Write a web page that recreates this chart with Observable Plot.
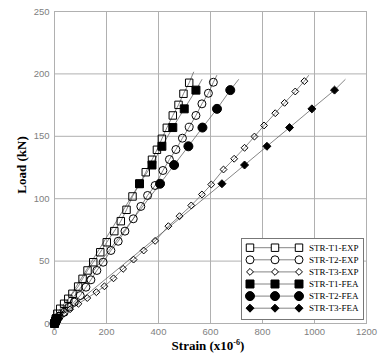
<!DOCTYPE html>
<html>
<head>
<meta charset="utf-8">
<script src="https://cdn.jsdelivr.net/npm/d3@7"></script>
<script src="https://cdn.jsdelivr.net/npm/@observablehq/plot@0.6"></script>
<style>
  body { margin: 0; background: #fff; }
  #chart svg { display: block; }
</style>
</head>
<body>
<div id="chart"></div>
<script>
// Axis ticks
const strainTicks = [0, 200, 400, 600, 800, 1000, 1200];
const loadTicks = [0, 50, 100, 150, 200, 250];

// Test specimens: measured (EXP) and finite-element (FEA) load–strain data
const t1ExpStrain = [0, 5, 11, 22, 37, 53, 69, 91, 108, 127, 149, 176, 201, 230, 255, 277, 300, 327, 351, 375, 394, 413, 432, 455, 477, 496, 518];
const t1ExpLoad   = [0, 3.8, 7.8, 11.8, 15.8, 19.8, 23.8, 29.6, 35.8, 42.5, 49.1, 57.1, 65.1, 74, 82, 91.1, 101.8, 111.9, 121.2, 131.2, 139.2, 148, 156.8, 166.7, 175.2, 184.1, 192.9];
const t1ExpEnd    = [535, 201.4];

const t2ExpStrain = [0, 18, 37, 56, 76, 99, 121, 140, 163, 187, 217, 245, 271, 303, 332, 358, 387, 417, 442, 467, 492, 518, 544, 567, 592, 611];
const t2ExpLoad   = [0, 5.6, 9, 13.1, 17.1, 22.4, 29.1, 35, 42.5, 49.1, 58.5, 65.9, 74, 83.9, 93.8, 102.6, 110.6, 122.6, 131.4, 139.4, 148.5, 157.3, 166.7, 176, 184.5, 193.3];
const t2ExpEnd    = [624, 198.7];

const t3ExpStrain = [0, 9, 35, 60, 92, 126, 161, 192, 227, 264, 304, 343, 387, 438, 481, 526, 567, 603, 650, 691, 731, 769, 806, 849, 885, 926, 961];
const t3ExpLoad   = [0, 3.8, 7.8, 11.4, 15.8, 20.4, 25.1, 29.8, 36.2, 43.8, 51.2, 58.5, 66.2, 78, 86, 94.6, 103.4, 111.4, 123.4, 132, 140.8, 149.8, 158.7, 168.5, 176.8, 185.9, 194.2];
const t3ExpEnd    = [977, 198.7];

const t1FeaStrain = [0, 4, 8, 327, 375, 413, 455, 499, 544];
const t1FeaLoad   = [0, 2, 4, 112, 127, 142, 157, 172, 187];
const t1FeaEnd    = [567, 195.5];

const t2FeaStrain = [0, 5, 10, 406, 460, 515, 569, 625, 676];
const t2FeaLoad   = [0, 2, 4, 112, 127, 142, 157, 172, 187];
const t2FeaEnd    = [708, 195.5];

const t3FeaStrain = [0, 6, 12, 644, 731, 817, 904, 990, 1077];
const t3FeaLoad   = [0, 2, 4, 112, 127, 142, 157, 172, 187];
const t3FeaEnd    = [1118, 195.5];

const seriesNames = ["STR-T1-EXP", "STR-T2-EXP", "STR-T3-EXP", "STR-T1-FEA", "STR-T2-FEA", "STR-T3-FEA"];

const series = [
  {name: seriesNames[0], strain: t1ExpStrain, load: t1ExpLoad, end: t1ExpEnd, symbol: "square",   fill: "none",  r: 4.2},
  {name: seriesNames[1], strain: t2ExpStrain, load: t2ExpLoad, end: t2ExpEnd, symbol: "circle",   fill: "none",  r: 4.0},
  {name: seriesNames[2], strain: t3ExpStrain, load: t3ExpLoad, end: t3ExpEnd, symbol: "diamond2", fill: "none",  r: 3.1},
  {name: seriesNames[3], strain: t1FeaStrain, load: t1FeaLoad, end: t1FeaEnd, symbol: "square",   fill: "black", r: 4.5},
  {name: seriesNames[4], strain: t2FeaStrain, load: t2FeaLoad, end: t2FeaEnd, symbol: "circle",   fill: "black", r: 4.5},
  {name: seriesNames[5], strain: t3FeaStrain, load: t3FeaLoad, end: t3FeaEnd, symbol: "diamond2", fill: "black", r: 3.6}
];

const pointsOf = s => s.strain.map((x, i) => ({name: s.name, strain: x, load: s.load[i]}));
const curveOf = s => [...pointsOf(s), {name: s.name, strain: s.end[0], load: s.end[1]}];

const W = 381, H = 359;
const mL = 54, mR = 15, mT = 11, mB = 36;
const gridColor = "#b0b0b0";
const tickColor = "#808080";
const sansFont = "'Liberation Sans', Arial, sans-serif";
const serifFont = "'Liberation Serif', 'Times New Roman', serif";

const chart = Plot.plot({
  width: W,
  height: H,
  marginLeft: mL,
  marginRight: mR,
  marginTop: mT,
  marginBottom: mB,
  style: {fontFamily: sansFont, background: "#fff"},
  x: {domain: [0, 1200]},
  y: {domain: [0, 250]},
  marks: [
    Plot.gridX(strainTicks, {stroke: gridColor, strokeOpacity: 1, strokeWidth: 1}),
    Plot.gridY(loadTicks, {stroke: gridColor, strokeOpacity: 1, strokeWidth: 1}),
    Plot.frame({stroke: gridColor, strokeWidth: 1}),
    Plot.axisX(strainTicks, {tickSize: 0, tickPadding: 5, label: null, tickFormat: d => String(d), fill: tickColor, fontSize: 9.5}),
    Plot.axisY(loadTicks, {tickSize: 0, tickPadding: 5, label: null, tickFormat: d => String(d), fill: tickColor, fontSize: 9.5}),
    ...series.map(s => Plot.line(curveOf(s), {x: "strain", y: "load", stroke: "#666", strokeWidth: 0.8})),
    ...series.map(s => Plot.dot(pointsOf(s), {x: "strain", y: "load", symbol: s.symbol, r: s.r, fill: s.fill, stroke: "black", strokeWidth: 1}))
  ]
});

document.getElementById("chart").appendChild(chart);

// Axis titles
const svg = d3.select(chart);
const plotCx = mL + (W - mL - mR) / 2;
const plotCy = mT + (H - mT - mB) / 2;

svg.append("text")
  .attr("transform", `translate(26,${plotCy - 2}) rotate(-90)`)
  .attr("text-anchor", "middle")
  .attr("font-family", serifFont)
  .attr("font-weight", "bold")
  .attr("font-size", 13)
  .attr("fill", "#000")
  .text("Load (kN)");

const xt = svg.append("text")
  .attr("x", plotCx - 2)
  .attr("y", 350)
  .attr("text-anchor", "middle")
  .attr("font-family", serifFont)
  .attr("font-weight", "bold")
  .attr("font-size", 13)
  .attr("fill", "#000");
xt.append("tspan").text("Strain (x10");
xt.append("tspan").attr("font-size", 8).attr("dy", -5).text("-6");
xt.append("tspan").attr("dy", 5).text(")");

// Legend
const symbolTypes = {square: d3.symbolSquare, circle: d3.symbolCircle, diamond2: d3.symbolDiamond2};
const lg = svg.append("g");
const box = {x: 241, y: 238, w: 122, h: 81};
lg.append("rect")
  .attr("x", box.x + 0.5).attr("y", box.y + 0.5)
  .attr("width", box.w).attr("height", box.h)
  .attr("fill", "#fff").attr("stroke", "#777").attr("stroke-width", 1);

const rowY0 = 247.7, rowStep = 12.1;
const markerXs = [250, 275, 299];
series.forEach((s, i) => {
  const y = rowY0 + i * rowStep;
  lg.append("line")
    .attr("x1", markerXs[0]).attr("x2", markerXs[2])
    .attr("y1", y).attr("y2", y)
    .attr("stroke", "#666").attr("stroke-width", 0.8);
  markerXs.forEach(mx => {
    lg.append("path")
      .attr("transform", `translate(${mx},${y})`)
      .attr("d", d3.symbol(symbolTypes[s.symbol], Math.PI * s.r * s.r)())
      .attr("fill", s.fill === "none" ? "#fff" : s.fill)
      .attr("stroke", "black").attr("stroke-width", 1);
  });
  lg.append("text")
    .attr("x", 309).attr("y", y)
    .attr("dy", "0.35em")
    .attr("text-anchor", "start")
    .attr("font-family", serifFont)
    .attr("font-size", 9)
    .attr("fill", "#000")
    .text(s.name);
});
</script>
</body>
</html>
